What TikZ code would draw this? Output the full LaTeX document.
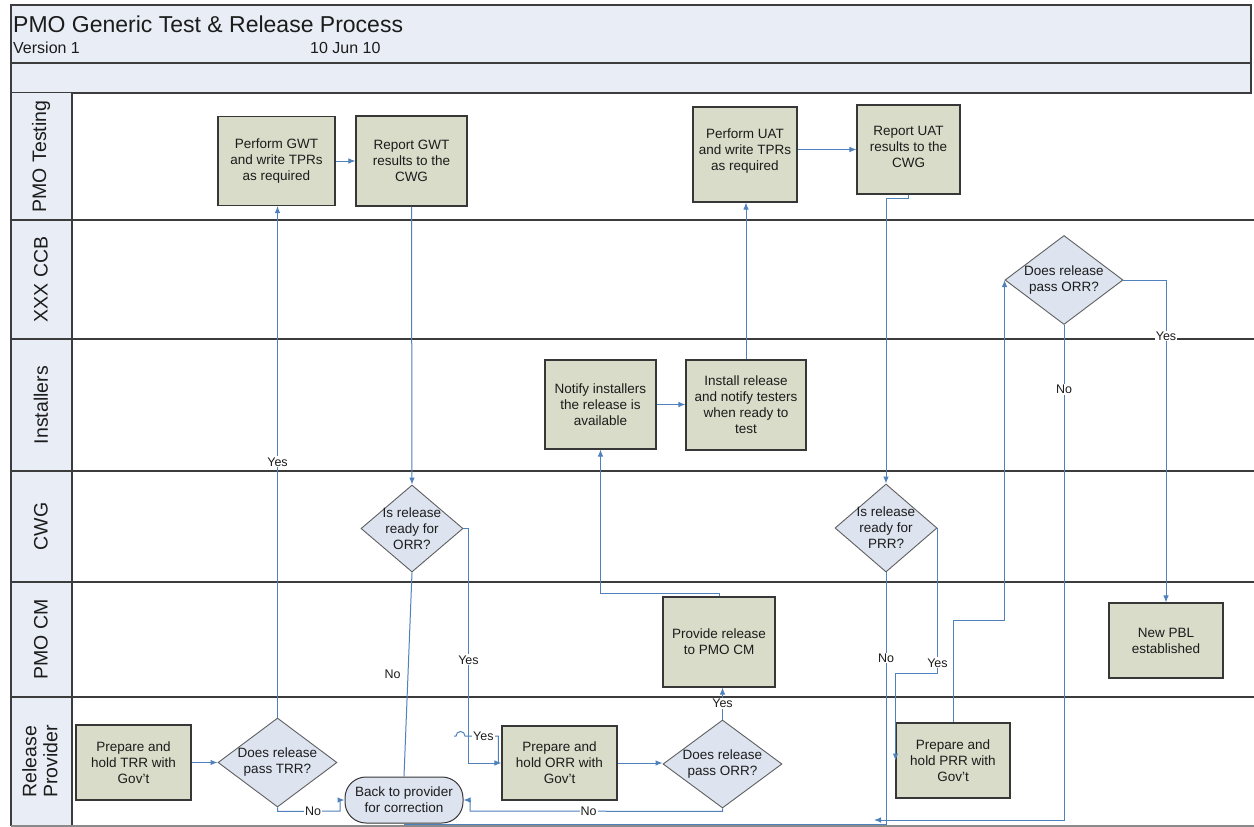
\documentclass[tikz,border=0pt]{standalone}
\usepackage{fontspec}
\setmainfont{Liberation Sans}
\usetikzlibrary{shapes.geometric,arrows.meta}

\definecolor{headfill}{RGB}{233,238,246}
\definecolor{boxfill}{RGB}{216,220,200}
\definecolor{diafill}{RGB}{221,228,240}
\definecolor{flow}{RGB}{79,129,189}
\definecolor{frame}{RGB}{60,60,60}
\definecolor{boxline}{RGB}{55,55,55}
\definecolor{ink}{RGB}{28,28,28}

\begin{document}
\begin{tikzpicture}[x=1pt,y=-1pt,
  every node/.style={text=ink},
  lanerule/.style={draw=frame,line width=1.6pt},
  lanelabel/.style={rotate=90,align=center,font=\fontsize{19.5}{21}\selectfont},
  procbox/.style={rectangle,draw=boxline,fill=boxfill,line width=1.1pt,inner sep=0pt,
    align=center,font=\fontsize{13.5}{16}\selectfont},
  decision/.style={diamond,draw=boxline!80,fill=diafill,line width=0.9pt,inner sep=0pt},
  dtext/.style={align=center,font=\fontsize{13.5}{16}\selectfont,inner sep=0pt},
  endbox/.style={rectangle,rounded corners=21pt,draw=boxline,fill=diafill,line width=1pt,
    inner sep=0pt,align=center,font=\fontsize{13.5}{16}\selectfont},
  flowline/.style={draw=flow,line width=1pt},
  flowarrow/.style={flowline,-{Latex[length=7pt,width=5.5pt]}},
  tag/.style={fill=white,inner sep=1pt,font=\fontsize{12.5}{14}\selectfont},
  bare/.style={inner sep=1pt,font=\fontsize{12.5}{14}\selectfont}
]
\useasboundingbox (0,0) rectangle (1254,827);
\fill[white] (0,0) rectangle (1254,827);

% header band
\filldraw[fill=headfill,draw=frame,line width=1.5pt] (11,5) rectangle (1251,93);
\draw[frame,line width=1.5pt] (11,63) -- (1251,63);
\node[anchor=base west,inner sep=0pt,font=\fontsize{23}{26}\selectfont] (title) at (13,32) {PMO Generic Test \& Release Process};
\node[anchor=base west,inner sep=0pt,font=\fontsize{16}{18}\selectfont] (version) at (13,53) {Version 1};
\node[anchor=base west,inner sep=0pt,font=\fontsize{16}{18}\selectfont] (date) at (310,53) {10 Jun 10};

% lane label column
\fill[headfill] (11,93) rectangle (72,826);
\draw[frame,line width=1.5pt] (11,93) -- (11,826);
\draw[frame,line width=1.5pt] (72,93) -- (72,826);
\foreach \yy in {220,339,471,582,697} \draw[lanerule] (11,\yy) -- (1254,\yy);
\draw[frame!60,line width=2pt] (11,826) -- (1254,826);

\node[lanelabel] (l1) at (41,156.5) {PMO Testing};
\node[lanelabel] (l2) at (41,279.5) {XXX CCB};
\node[lanelabel] (l3) at (41,405) {Installers};
\node[lanelabel] (l4) at (41,526.5) {CWG};
\node[lanelabel] (l5) at (41,639.5) {PMO CM};
\node[lanelabel] (l6) at (40,761.5) {Release\\Provider};

% process boxes
\node[procbox,minimum width=117pt,minimum height=89pt] (gwt) at (276.5,161) {Perform GWT\\and write TPRs\\as required};
\node[procbox,minimum width=111pt,minimum height=90pt] (rgwt) at (411.5,161) {Report GWT\\results to the\\CWG};
\node[procbox,minimum width=104pt,minimum height=95pt] (uat) at (745,154.5) {Perform UAT\\and write TPRs\\as required\\[-6pt]};
\node[procbox,minimum width=103pt,minimum height=89pt] (ruat) at (908.5,149.5) {Report UAT\\results to the\\CWG\\[-10pt]};
\node[procbox,minimum width=111pt,minimum height=89pt] (notify) at (600.5,404.5) {Notify installers\\the release is\\available};
\node[procbox,minimum width=120pt,minimum height=90pt] (install) at (746,405) {Install release\\and notify testers\\when ready to\\test};
\node[procbox,minimum width=112pt,minimum height=90pt] (prov) at (719,642) {Provide release\\to PMO CM};
\node[procbox,minimum width=114pt,minimum height=75pt] (pbl) at (1166,640.5) {New PBL\\established};
\node[procbox,minimum width=114pt,minimum height=75pt] (prr) at (953,760.5) {Prepare and\\hold PRR with\\Gov't};
\node[procbox,minimum width=115pt,minimum height=75pt] (trr) at (133.5,762.5) {Prepare and\\hold TRR with\\Gov't};
\node[procbox,minimum width=115pt,minimum height=74pt] (orr) at (559.5,763) {Prepare and\\hold ORR with\\Gov't};
\node[endbox,minimum width=118pt,minimum height=46pt] (back) at (404,800) {Back to provider\\for correction};

% decisions
\node[decision,minimum width=118pt,minimum height=89pt,label={[dtext]center:{Does release\\pass ORR?}}] (dccb) at (1064,280) {};
\node[decision,minimum width=102pt,minimum height=87pt,label={[dtext]center:{Is release\\ready for\\ORR?}}] (dorr) at (412,528.5) {};
\node[decision,minimum width=102pt,minimum height=88pt,label={[dtext]center:{Is release\\ready for\\PRR?}}] (dprr) at (886,528) {};
\node[decision,minimum width=119pt,minimum height=89pt,label={[dtext]center:{Does release\\pass TRR?}}] (dtrr) at (277.5,762.5) {};
\node[decision,minimum width=119pt,minimum height=88pt,label={[dtext]center:{Does release\\pass ORR?}}] (dpass) at (722.5,764) {};

% connectors
\draw[flowarrow] (gwt.east) -- (gwt.east -| rgwt.west);
\draw[flowarrow] (rgwt.south) -- (dorr.north);
\draw[flowline] (dorr.south) -- node[bare,pos=0.5,left=6pt] {No} (back.north);
\draw[flowarrow] (dorr.east) -- ++(5,0) |- node[tag,pos=0.28] {Yes} (orr.west);
\draw[flowline] (454,736) -- ++(2,0) arc[start angle=180,end angle=360,radius=4.5] -- ([xshift=-3pt]orr.west |- 0,736)
  node[tag,pos=0.55] {Yes} -- ([xshift=-3pt]orr.west);
\draw[flowarrow] (orr.east) -- (orr.east -| dpass.west);
\draw[flowarrow] (dpass.north) -- node[tag,pos=0.5] {Yes} (dpass.north |- prov.south);
\draw[flowarrow] (dpass.south) -- ++(0,3) -- node[tag,pos=0.53] {No} (470,811) |- (back.east);
\draw[flowarrow] (prov.north) -- ++(0,-3) -| (notify.south);
\draw[flowarrow] (notify.east) -- (notify.east -| install.west);
\draw[flowarrow] (install.north) -- (install.north |- uat.south);
\draw[flowarrow] (ruat.west -| uat.east) -- (ruat.west);
\draw[flowarrow] (ruat.south) -- ++(0,4) -| (dprr.north);
\draw[flowline] (dprr.south) -- node[tag,pos=0.34] {No} (dprr.south |- 0,824) -- (back.south |- 0,824) -- (back.south);
\draw[flowarrow] (dprr.east) -- node[tag,pos=0.93] {Yes} ++(0,145) -| (prr.west);
\draw[flowarrow] (prr.north) -- ++(0,-102) -| (dccb.west);
\draw[flowarrow] (dccb.east) -| node[tag,pos=0.587] {Yes} (pbl.north);
\draw[flowarrow] (dccb.south) -- node[tag,pos=0.13] {No} (1064,820) -- (874,820);
\draw[flowarrow] (trr.east) -- (trr.east -| dtrr.west);
\draw[flowarrow] (dtrr.north) -- node[tag,pos=0.5] {Yes} (dtrr.north |- gwt.south);
\draw[flowarrow] (dtrr.south) -- ++(0,4) -- node[tag,pos=0.57] {No} (340,811) |- (back.west);
\end{tikzpicture}
\end{document}
